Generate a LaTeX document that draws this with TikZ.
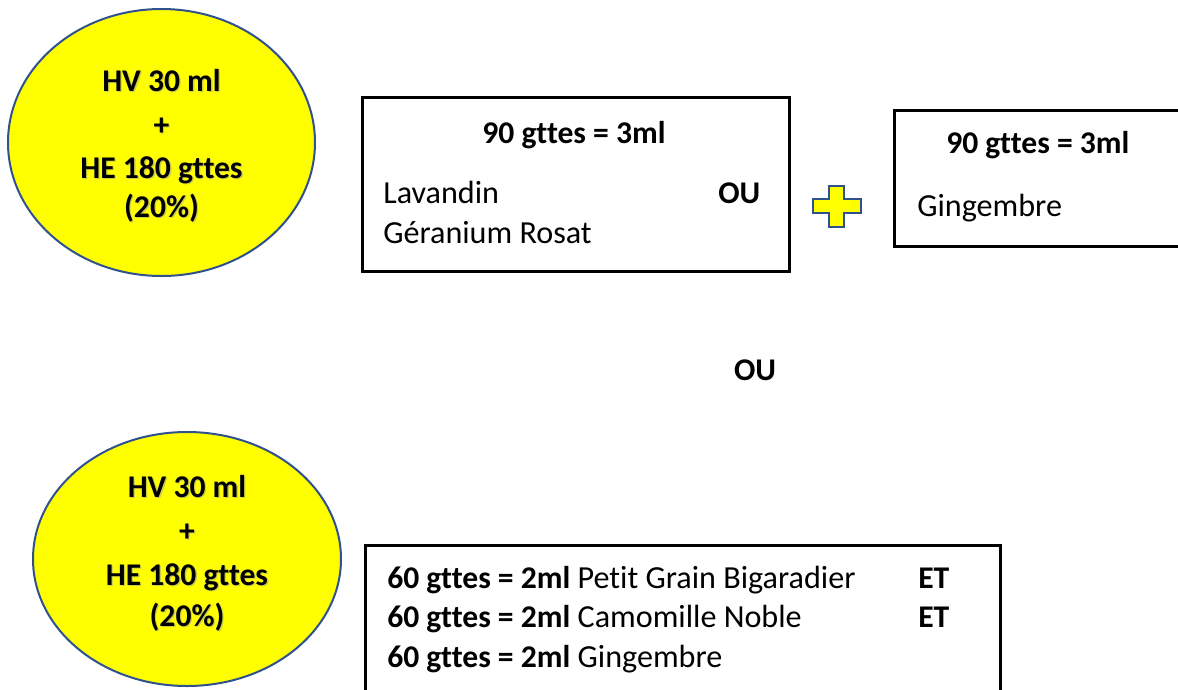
\documentclass[tikz,border=0pt]{standalone}
\usepackage{fontspec}
\setmainfont{Carlito}[Ligatures=NoCommon]
\usetikzlibrary{shapes.geometric}
\definecolor{ellblue}{RGB}{47,82,143}
\definecolor{myyellow}{RGB}{255,255,0}
\tikzset{
  txt/.style={anchor=base, inner sep=0pt, font=\fontsize{24.1}{28}\selectfont},
  btxt/.style={txt, font=\fontsize{23.7}{28}\selectfont\bfseries},
  ltxt/.style={txt, anchor=base west},
  lbtxt/.style={btxt, anchor=base west},
  shd/.style={btxt, text=black!40, opacity=0.5},
  ell/.style={ellipse, draw=ellblue, line width=1.5pt, fill=myyellow, inner sep=0pt},
  box/.style={rectangle, draw=black, line width=2.25pt, inner sep=0pt, fill=white},
}
\begin{document}
\begin{tikzpicture}[x=0.75pt,y=-0.75pt]
\useasboundingbox (0,0) rectangle (1178,689);
\clip (0,0) rectangle (1178,689);
% top ellipse
\node[ell, minimum width=230.25pt, minimum height=200.25pt] (e1) at (161.5,142.5) {};
\foreach \t/\yy [count=\i] in {HV 30 ml/91.5, +/135, HE 180 gttes/178, (20\%)/217}{
  \node[shd] (e1s\i) at (162.8,\yy+1.3) {\t};
  \node[btxt] (e1t\i) at (161.5,\yy) {\t};
}
% bottom ellipse
\node[ell, minimum width=231pt, minimum height=190.5pt] (e2) at (187,559) {};
\foreach \t/\yy [count=\i] in {HV 30 ml/497.5, +/541, HE 180 gttes/585, (20\%)/626}{
  \node[shd] (e2s\i) at (188.3,\yy+1.3) {\t};
  \node[btxt] (e2t\i) at (187,\yy) {\t};
}
% box 1
\node[box, minimum width=320.25pt, minimum height=130.5pt] (b1) at (575.5,184) {};
\node[btxt] (b1h) at (574,143) {90 gttes = 3ml};
\node[ltxt] (b1a) at (383,203) {Lavandin};
\node[lbtxt] (b1ou) at (718,203) {OU};
\node[ltxt] (b1b) at (383,243) {Géranium Rosat};
% plus sign
\draw[fill=myyellow, draw=ellblue, line width=1.9pt]
  (829,186) -- (844,186) -- (844,199) -- (861,199) -- (861,213) -- (844,213)
  -- (844,227) -- (829,227) -- (829,213) -- (813,213) -- (813,199) -- (829,199) -- cycle;
% box 2
\node[box, minimum width=219pt, minimum height=102pt] (b2) at (1040,178) {};
\node[lbtxt] (b2h) at (946,153) {90 gttes = 3ml};
\node[ltxt] (b2a) at (917,216.5) {Gingembre};
% middle OU
\node[btxt] (ou) at (755,380) {OU};
% box 3
\node[box, minimum width=476.25pt, minimum height=120pt] (b3) at (682.5,625) {};
\node[ltxt] (b3a) at (387,588) {\textbf{\fontsize{23.7}{28}\selectfont 60 gttes = 2ml} Petit Grain Bigaradier};
\node[lbtxt] (b3ae) at (918,588) {ET};
\node[ltxt] (b3b) at (387,627) {\textbf{\fontsize{23.7}{28}\selectfont 60 gttes = 2ml} Camomille Noble};
\node[lbtxt] (b3be) at (918,627) {ET};
\node[ltxt] (b3c) at (387,667) {\textbf{\fontsize{23.7}{28}\selectfont 60 gttes = 2ml} Gingembre};
\end{tikzpicture}
\end{document}
